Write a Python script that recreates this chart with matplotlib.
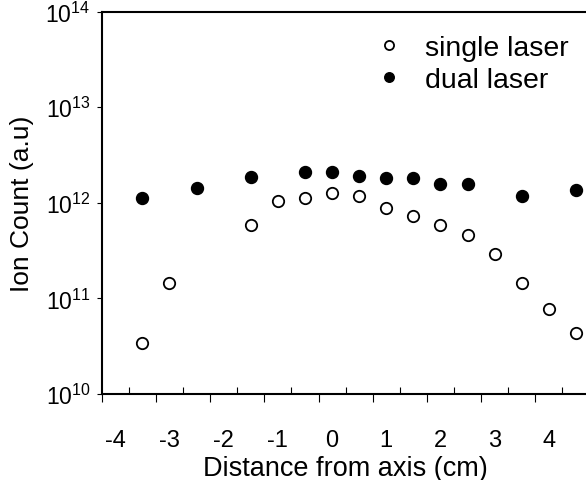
import numpy as np
import matplotlib
matplotlib.use('Agg')
import matplotlib.pyplot as plt
from matplotlib.ticker import FixedLocator, NullFormatter, FuncFormatter

plt.rcParams['font.family'] = ['Liberation Sans', 'DejaVu Sans']
plt.rcParams['mathtext.fontset'] = 'custom'
plt.rcParams['mathtext.rm'] = 'Liberation Sans'
plt.rcParams['mathtext.it'] = 'Liberation Sans:italic'
plt.rcParams['mathtext.bf'] = 'Liberation Sans:bold'

# data
x_single = [-3.5, -3, -1.5, -1, -0.5, 0, 0.5, 1, 1.5, 2, 2.5, 3, 3.5, 4, 4.5]
y_single = [3.4e10, 1.44e11, 5.8e11, 1.04e12, 1.13e12, 1.26e12, 1.19e12, 8.9e11,
            7.3e11, 5.8e11, 4.6e11, 2.9e11, 1.44e11, 7.7e10, 4.3e10]

x_dual = [-3.5, -2.5, -1.5, -0.5, 0, 0.5, 1, 1.5, 2, 2.5, 3.5, 4.5]
y_dual = [1.13e12, 1.44e12, 1.85e12, 2.12e12, 2.12e12, 1.92e12, 1.83e12, 1.83e12,
          1.58e12, 1.58e12, 1.19e12, 1.37e12]

x_labels = [-4, -3, -2, -1, 0, 1, 2, 3, 4]
ticks_out = [-4.25, -3.25, -2.25, -1.25, -0.25, 0.75, 1.75, 2.75, 3.75]
ticks_in = [-3.75, -2.75, -1.75, -0.75, 0.25, 1.25, 2.25, 3.25, 4.25]
y_decades = [1e10, 1e11, 1e12, 1e13, 1e14]

fig = plt.figure(figsize=(5.86, 4.81), dpi=100)
ax = fig.add_axes([0.1735, 0.1788, 0.8326, 0.7948])

ax.plot(x_single, y_single, 'o', ms=8.2, mfc='white', mec='black', mew=1.3,
        label='single laser', clip_on=False)
ax.plot(x_dual, y_dual, 'o', ms=8.6, mfc='black', mec='black', mew=1.0,
        label='dual laser', clip_on=False)

ax.set_yscale('log')
ax.set_ylim(1e10, 1e14)
ax.set_xlim(-4.25, 4.75)

# y axis: decades only, short ticks outside
ax.yaxis.set_major_locator(FixedLocator(y_decades))
ax.yaxis.set_minor_locator(FixedLocator([]))
ax.yaxis.set_major_formatter(FuncFormatter(
    lambda v, p: r'$\mathregular{10^{%d}}$' % int(round(np.log10(v)))))
ax.tick_params(axis='y', which='major', direction='out', length=3.6, width=0.8,
               labelsize=16.5, pad=4.5)

# x axis: labels at integers without ticks, ticks out/in at quarter offsets
ax.xaxis.set_major_locator(FixedLocator(x_labels))
ax.xaxis.set_major_formatter(FuncFormatter(lambda v, p: '%d' % v))
ax.xaxis.set_minor_locator(FixedLocator(ticks_out))
ax.xaxis.set_minor_formatter(NullFormatter())
ax.tick_params(axis='x', which='major', length=0, labelsize=17, pad=25)
ax.tick_params(axis='x', which='minor', direction='out', length=6, width=0.8)

sec = ax.secondary_xaxis('bottom')
sec.set_xticks(ticks_in)
sec.tick_params(axis='x', direction='in', length=5, width=0.8, labelbottom=False)
sec.spines['bottom'].set_visible(False)

for s in ['left', 'bottom', 'top', 'right']:
    ax.spines[s].set_linewidth(1.5)

ax.set_xlabel('Distance from axis (cm)', fontsize=19.5, labelpad=3)
ax.set_ylabel('Ion Count (a.u)', fontsize=19, labelpad=8)

ax.legend(loc='upper left', bbox_to_anchor=(375 / 586, 1 - 36 / 481),
          bbox_transform=fig.transFigure, frameon=False, fontsize=20.5,
          handlelength=1.0, handletextpad=0.75, labelspacing=0.2,
          borderpad=0, borderaxespad=0, markerscale=0.8)

fig.savefig('out.png', dpi=100)
